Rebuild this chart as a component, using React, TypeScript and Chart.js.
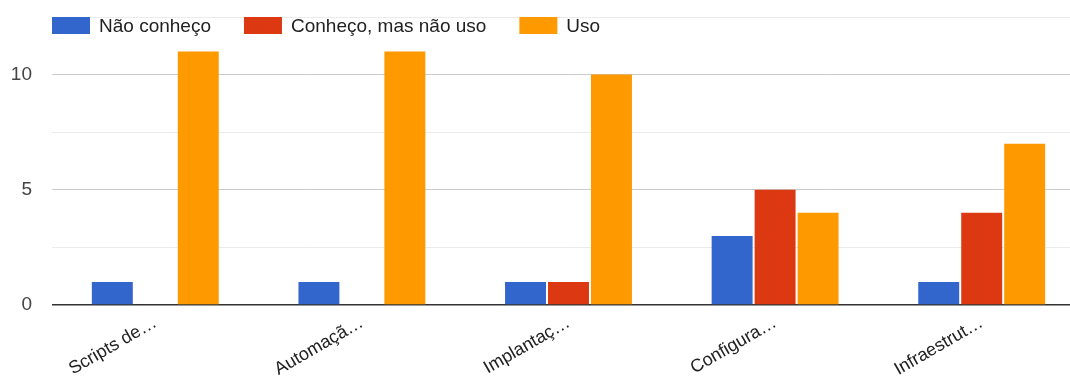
import React, { useEffect, useRef } from "react";
import { Chart, registerables } from "chart.js";

Chart.register(...registerables);

const categories = ["Scripts de…", "Automaçã…", "Implantaç…", "Configura…", "Infraestrut…"];
const seriesNames = ["Não conheço", "Conheço, mas não uso", "Uso"];
const naoConheco = [1, 1, 1, 3, 1];
const conhecoNaoUso = [0, 0, 1, 5, 4];
const uso = [11, 11, 10, 4, 7];
const colors = ["#3366cc", "#dc3912", "#ff9900"];
const yTickLabels = [0, 5, 10];

const FONT = "'Liberation Sans', Arial, sans-serif";

const legendPlugin = {
  id: "customLegend",
  afterDraw(chart: any) {
    const ctx = chart.ctx;
    ctx.save();
    ctx.font = `19px ${FONT}`;
    ctx.textBaseline = "middle";
    ctx.textAlign = "left";
    let x = 52;
    const y = 17;
    const bw = 38;
    const bh = 17;
    chart.data.datasets.forEach((ds: any) => {
      ctx.fillStyle = ds.backgroundColor;
      ctx.fillRect(x, y, bw, bh);
      ctx.fillStyle = "#222222";
      const tx = x + bw + 9;
      ctx.fillText(ds.label, tx, y + bh / 2 + 1);
      x = tx + ctx.measureText(ds.label).width + 33;
    });
    ctx.restore();
  },
};

export default function App() {
  const ref = useRef<HTMLCanvasElement | null>(null);
  useEffect(() => {
    if (!ref.current) return;
    const data = [naoConheco, conhecoNaoUso, uso];
    const chart = new Chart(ref.current, {
      type: "bar",
      data: {
        labels: categories,
        datasets: seriesNames.map((name, i) => ({
          label: name,
          data: data[i],
          backgroundColor: colors[i],
          borderWidth: 0,
          categoryPercentage: 0.624,
          barPercentage: 0.953,
        })),
      },
      plugins: [legendPlugin],
      options: {
        animation: false,
        responsive: true,
        maintainAspectRatio: false,
        layout: { padding: { left: 0, right: 10, top: 17, bottom: 0 } },
        plugins: {
          legend: { display: false },
          tooltip: { enabled: false },
        },
        scales: {
          x: {
            grid: { display: false, drawTicks: false },
            border: { display: false },
            ticks: {
              minRotation: 30,
              maxRotation: 30,
              padding: 7,
              color: "#222222",
              font: { family: FONT, size: 18 },
              autoSkip: false,
            },
            afterFit: (s: any) => {
              s.height = 73;
            },
          },
          y: {
            min: 0,
            max: 12.5,
            border: { display: false },
            grid: {
              drawTicks: false,
              color: (c: any) => {
                const v = c.tick ? c.tick.value : 0;
                if (v === 0) return "#333333";
                if (v % 5 === 0) return "#cccccc";
                return "#ebebeb";
              },
              lineWidth: (c: any) => (c.tick && c.tick.value === 0 ? 1.5 : 1),
            },
            ticks: {
              stepSize: 2.5,
              padding: 20,
              color: "#444444",
              font: { family: FONT, size: 19 },
              callback: (v: any) => (yTickLabels.includes(Number(v)) ? String(v) : ""),
            },
            afterFit: (s: any) => {
              s.width = 52;
              s.paddingTop = 0;
              s.paddingBottom = 0;
            },
          },
        },
      },
    });
    return () => chart.destroy();
  }, []);
  return (
    <div
      style={{
        position: "fixed",
        left: 0,
        top: 0,
        width: 1070,
        height: 378,
        overflow: "hidden",
        background: "#ffffff",
      }}
    >
      <div style={{ position: "relative", width: 1095, height: 378 }}>
        <canvas ref={ref} />
      </div>
    </div>
  );
}
